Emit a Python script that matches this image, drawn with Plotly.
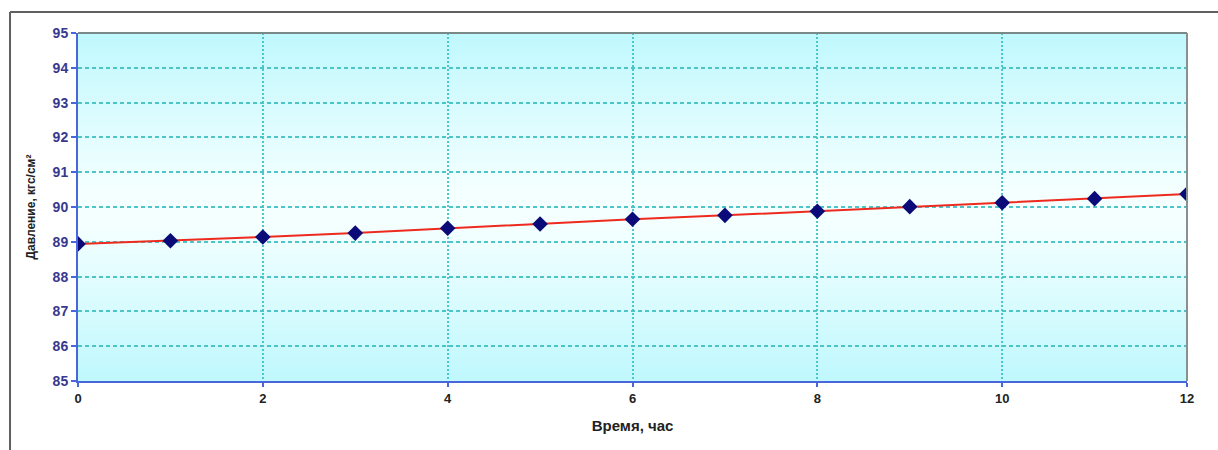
import base64
import plotly.graph_objects as go

# Time, hours
hours = [0, 1, 2, 3, 4, 5, 6, 7, 8, 9, 10, 11, 12]
# Pressure, kgf/cm2
pressure = [88.94, 89.03, 89.14, 89.25, 89.39, 89.51, 89.65, 89.76, 89.88, 90.01, 90.12, 90.24, 90.37]

x_ticks = [0, 2, 4, 6, 8, 10, 12]
y_ticks = [85, 86, 87, 88, 89, 90, 91, 92, 93, 94, 95]

# Plot-area fill: cyan at top and bottom, near-white in the middle
svg = (
    '<svg xmlns="http://www.w3.org/2000/svg" width="100" height="100" preserveAspectRatio="none">'
    '<defs><linearGradient id="g" x1="0" y1="0" x2="0" y2="1">'
    '<stop offset="0" stop-color="#bff8fd"/>'
    '<stop offset="0.45" stop-color="#f4ffff"/>'
    '<stop offset="0.55" stop-color="#f4ffff"/>'
    '<stop offset="1" stop-color="#bff8fd"/>'
    '</linearGradient></defs>'
    '<rect width="100" height="100" fill="url(#g)"/></svg>'
)
bg_src = "data:image/svg+xml;base64," + base64.b64encode(svg.encode()).decode()

shapes = [
    # Top and right border of plot area
    dict(type="line", xref="x domain", yref="y domain", x0=0, x1=1, y0=1, y1=1,
         line=dict(color="#7a8888", width=2)),
    dict(type="line", xref="x domain", yref="y domain", x0=1, x1=1, y0=0, y1=1,
         line=dict(color="#8a9090", width=2)),
    # Chart frame
    dict(type="line", xref="paper", yref="paper", x0=-0.0613, x1=-0.0613,
         y0=-0.25, y1=1.060, line=dict(color="#606060", width=2)),
    dict(type="line", xref="paper", yref="paper", x0=-0.0613, x1=1.05,
         y0=1.060, y1=1.060, line=dict(color="#606060", width=2)),
]

fig = go.Figure()
fig.add_trace(go.Scatter(
    x=hours, y=pressure, mode="lines+markers",
    line=dict(color="#ee2a1e", width=2),
    marker=dict(symbol="diamond", size=12, color="#0a0a78", line=dict(width=0)),
    showlegend=False,
))

fig.update_layout(
    width=1218, height=450,
    margin=dict(l=78, r=31, t=33, b=69),
    paper_bgcolor="white",
    plot_bgcolor="rgba(0,0,0,0)",
    shapes=shapes,
    images=[dict(source=bg_src, xref="x domain", yref="y domain", x=0, y=1,
                 sizex=1, sizey=1, xanchor="left", yanchor="top",
                 sizing="stretch", layer="below")],
    font=dict(family="Arial, Liberation Sans", color="#222"),
)

fig.update_xaxes(
    range=[0, 12], tickvals=x_ticks, zeroline=False,
    showgrid=True, gridcolor="#4cc8cc", gridwidth=2, griddash="2px,2px",
    showline=True, linecolor="#4a66dd", linewidth=2,
    ticks="outside", ticklen=4, tickcolor="#4a66dd", tickwidth=1.5,
    tickfont=dict(size=13, color="#222", weight="bold"),
    title=dict(text="Время, час", font=dict(size=15, color="#222", weight="bold"), standoff=16),
)
fig.update_yaxes(
    range=[85, 95], tickvals=y_ticks, zeroline=False,
    showgrid=True, gridcolor="#4cc4c8", gridwidth=2, griddash="4px,3px",
    showline=True, linecolor="#4a66dd", linewidth=2,
    ticks="outside", ticklen=5, tickcolor="#4a66dd", tickwidth=1.5,
    tickfont=dict(size=14, color="#38388f", weight="bold"),
    title=dict(text="Давление, кгс/см²", font=dict(size=12, color="#222", weight="bold"), standoff=14),
)

fig.write_html("out.html")
